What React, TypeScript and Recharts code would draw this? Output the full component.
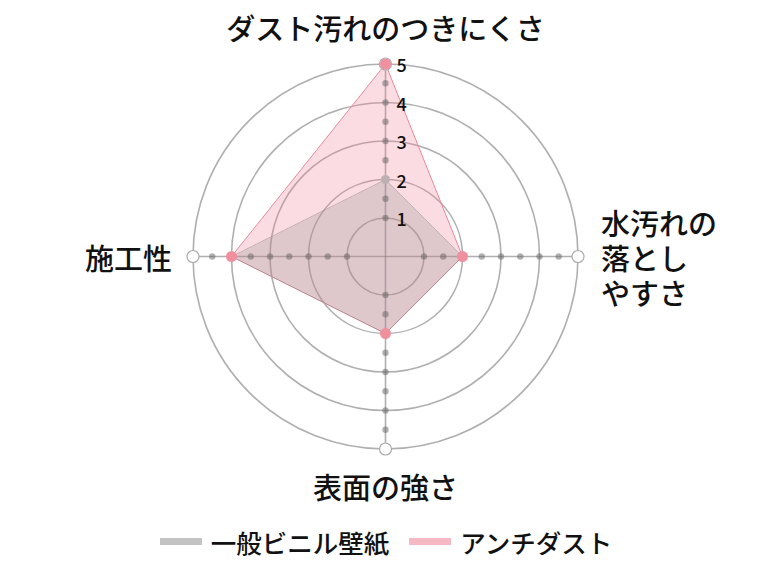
import { Legend, PolarAngleAxis, PolarGrid, PolarRadiusAxis, Radar, RadarChart } from "recharts";

// Axis order follows the chart clockwise from the top.
const CATEGORIES = ["ダスト汚れのつきにくさ", "水汚れの落としやすさ", "表面の強さ", "施工性"];
const CATEGORY_LINES: Record<string, string[]> = {
  "ダスト汚れのつきにくさ": ["ダスト汚れのつきにくさ"],
  "水汚れの落としやすさ": ["水汚れの", "落とし", "やすさ"],
  "表面の強さ": ["表面の強さ"],
  "施工性": ["施工性"],
};
const VINYL = [2, 2, 2, 4];
const ANTI_DUST = [5, 2, 2, 4];
const RADIUS_TICKS = [0, 1, 2, 3, 4, 5];
const DOT_LEVELS = [1, 1.5, 2, 2.5, 3, 3.5, 4, 4.5];
const MAX_LEVEL = 5;

const SERIES = [
  { key: "vinyl", name: "一般ビニル壁紙", swatch: "#c3c3c3" },
  { key: "antiDust", name: "アンチダスト", swatch: "#f5b9c3" },
];

const FONT = '"Noto Sans CJK JP", "Noto Sans", sans-serif';
const W = 772;
const H = 565;
const CX = 385.5;
const CY = 256.5;
const OUTER = 192.5;

const chartData = CATEGORIES.map((name, i) => {
  const row: Record<string, string | number> = {
    name,
    vinyl: VINYL[i],
    antiDust: ANTI_DUST[i],
    max: MAX_LEVEL,
  };
  DOT_LEVELS.forEach((lv, j) => {
    row[`lv${j}`] = lv;
  });
  return row;
});

function AngleTick(props: any) {
  const { x, y, payload } = props;
  const lines = CATEGORY_LINES[payload.value] ?? [payload.value];
  const dx = x - CX;
  const dy = y - CY;
  const common = { fontFamily: FONT, fontSize: 29, fontWeight: 500, fill: "#111" };
  if (Math.abs(dx) < 2) {
    return (
      <text {...common} x={x} y={dy < 0 ? y - 29 : y + 29} textAnchor="middle" dominantBaseline="central">
        {lines[0]}
      </text>
    );
  }
  const right = dx > 0;
  const lh = 35;
  const top = y - ((lines.length - 1) * lh) / 2;
  const tx = right ? x + 15 : x - 13;
  return (
    <g>
      {lines.map((line, i) => (
        <text key={line} {...common} x={tx} y={top + i * lh} textAnchor={right ? "start" : "end"} dominantBaseline="central">
          {line}
        </text>
      ))}
    </g>
  );
}

function RadiusTick(props: any) {
  const { x, y, payload } = props;
  if (payload.value === 0) return null;
  return (
    <text x={x + 11} y={y} fontFamily={FONT} fontSize={18} fontWeight={500} fill="#111" textAnchor="start" dominantBaseline="central">
      {payload.value}
    </text>
  );
}

function LegendContent() {
  return (
    <div style={{ display: "flex", justifyContent: "center", alignItems: "center", fontFamily: FONT, fontSize: 25.5, fontWeight: 500, color: "#111" }}>
      {SERIES.map((s, i) => (
        <div key={s.key} style={{ display: "flex", alignItems: "center", marginLeft: i === 0 ? 0 : 20 }}>
          <span style={{ display: "inline-block", width: 42, height: 7, background: s.swatch, marginRight: 9 }} />
          <span>{s.name}</span>
        </div>
      ))}
    </div>
  );
}

export default function App() {
  // pull the chart over the body margin so the top label has room
  return (
    <div style={{ width: W, height: H, margin: "-8px 0 0 -8px", fontFamily: FONT }}>
      <RadarChart width={W} height={H} data={chartData} cx={CX} cy={CY} outerRadius={OUTER} margin={{ top: 0, right: 0, bottom: 0, left: 0 }}>
        <Radar
          name="アンチダスト"
          dataKey="antiDust"
          stroke="#e8899a"
          strokeWidth={1}
          fill="rgb(240,130,150)"
          fillOpacity={0.28}
          dot={false}
          isAnimationActive={false}
        />
        <Radar
          name="一般ビニル壁紙"
          dataKey="vinyl"
          stroke="rgba(140,140,140,0.4)"
          strokeWidth={1}
          fill="rgb(143,143,143)"
          fillOpacity={0.26}
          dot={false}
          isAnimationActive={false}
        />
        <PolarGrid gridType="circle" stroke="rgba(95,95,95,0.5)" strokeWidth={1.6} />
        <PolarAngleAxis dataKey="name" tick={AngleTick} tickLine={false} axisLine={false} />
        <PolarRadiusAxis angle={90} domain={[0, MAX_LEVEL]} tickCount={RADIUS_TICKS.length} tick={RadiusTick} axisLine={false} tickLine={false} />
        {DOT_LEVELS.map((lv, j) => (
          <Radar
            key={lv}
            dataKey={`lv${j}`}
            stroke="none"
            fill="none"
            legendType="none"
            dot={{ r: 3.2, fill: "rgba(100,100,100,0.5)", stroke: "none", fillOpacity: 1 }}
            isAnimationActive={false}
          />
        ))}
        <Radar
          dataKey="max"
          stroke="none"
          fill="none"
          legendType="none"
          dot={{ r: 6, fill: "#fff", stroke: "#aaa", strokeWidth: 1.2, fillOpacity: 1 }}
          isAnimationActive={false}
        />
        <Radar
          dataKey="vinyl"
          stroke="none"
          fill="none"
          legendType="none"
          dot={{ r: 4.5, fill: "#bdb0b3", stroke: "none", fillOpacity: 1 }}
          isAnimationActive={false}
        />
        <Radar
          dataKey="antiDust"
          stroke="none"
          fill="none"
          legendType="none"
          dot={{ r: 5.5, fill: "#f0909f", stroke: "none", fillOpacity: 1 }}
          isAnimationActive={false}
        />
        <Legend content={LegendContent} wrapperStyle={{ position: "absolute", left: 0, top: 523, width: W }} />
      </RadarChart>
    </div>
  );
}
